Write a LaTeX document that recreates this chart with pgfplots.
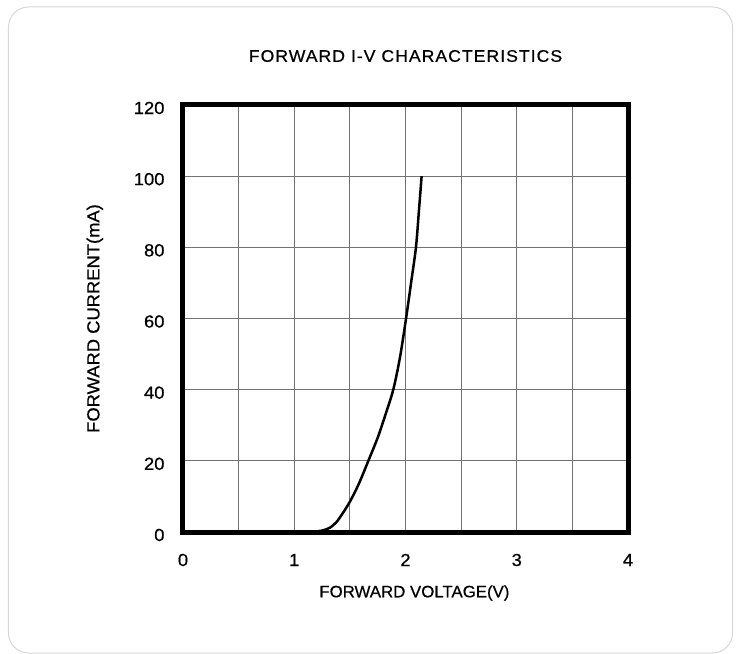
\documentclass[border=0pt]{standalone}
\usepackage{fontspec}
\setmainfont{Liberation Sans}[FakeStretch=1.05,FakeBold=0.6]
\newfontfamily\titlefont{Liberation Sans}[FakeStretch=1.05,LetterSpace=6,FakeBold=0.6]
\newfontfamily\labelfont{Liberation Sans}[FakeStretch=1.02,FakeBold=0.6]
\usepackage{pgfplots}
\pgfplotsset{compat=1.18}

\definecolor{gridgray}{RGB}{115,115,115}
\definecolor{boxgray}{RGB}{215,215,215}

\begin{document}
\begin{tikzpicture}
% page frame, relative to the axis' lower left corner
\path[use as bounding box] (-183bp,-122bp) rectangle (557bp,532bp);
\draw[boxgray, line width=1bp, rounded corners=20bp] (-174.5bp,-121bp) rectangle (549.5bp,525bp);
\begin{axis}[
    width=445bp, height=427bp,
    scale only axis,
    xmin=0, xmax=4,
    ymin=0, ymax=120,
    xtick={0,1,2,3,4},
    minor xtick={0.5,1.5,2.5,3.5},
    ytick={0,20,40,60,80,100,120},
    xmajorgrids, xminorgrids, ymajorgrids,
    major grid style={gridgray, line width=0.9bp},
    minor grid style={gridgray, line width=0.9bp},
    major tick length=0pt, minor tick length=0pt,
    axis line style={line width=5bp},
    /pgf/number format/assume math mode=true,
    tick label style={font=\fontsize{17.5bp}{20bp}\selectfont},
    xticklabel style={anchor=center, yshift=-28bp},
    yticklabel style={anchor=east, xshift=-15bp, yshift=-3bp},
    title={\titlefont FORWARD I-V CHARACTERISTICS},
    title style={at={(axis description cs:0.5,1.1007)}, anchor=center,
        font=\fontsize{16.8bp}{20bp}\selectfont},
    xlabel={\labelfont FORWARD VOLTAGE(V)},
    xlabel style={at={(axis description cs:0.52,-0.1429)}, anchor=center,
        font=\fontsize{16.5bp}{20bp}\selectfont},
    ylabel={FORWARD CURRENT(mA)},
    ylabel style={at={(axis description cs:-0.198,0.5)}, anchor=center,
        font=\fontsize{17.5bp}{20bp}\selectfont},
]
\addplot[black, line width=2.5bp, smooth, tension=0.5] coordinates {
    (1.15,0) (1.25,0.4) (1.32,1.2) (1.38,2.8) (1.43,5) (1.50,8.5)
    (1.58,13.5) (1.666,20) (1.75,26.5) (1.82,33) (1.89,40) (1.95,49)
    (2.005,60) (2.05,70) (2.094,80) (2.12,90) (2.145,100)
};
\end{axis}
\end{tikzpicture}
\end{document}
